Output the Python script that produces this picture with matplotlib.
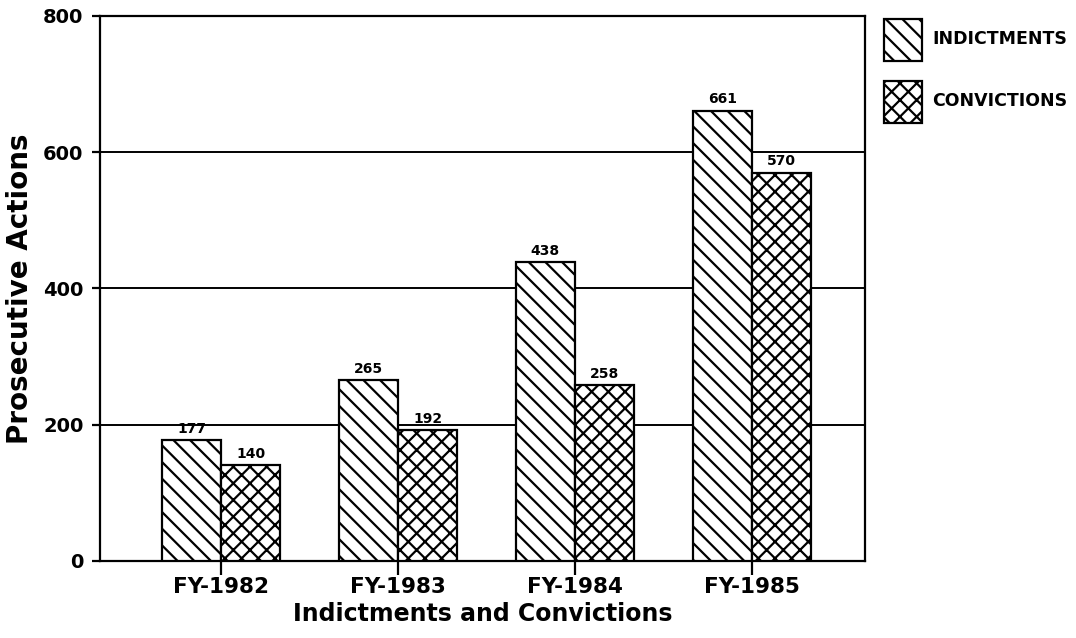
import matplotlib
matplotlib.use("Agg")
import matplotlib.pyplot as plt
from matplotlib.patches import Patch
import numpy as np

# ── data ──────────────────────────────────────────────────────────────────────
years       = ["FY-1982", "FY-1983", "FY-1984", "FY-1985"]
indictments = [177, 265, 438, 661]
convictions = [140, 192, 258, 570]

# ── style ─────────────────────────────────────────────────────────────────────
plt.rcParams.update({
    "font.family":     "DejaVu Sans",
    "font.weight":     "bold",
    "hatch.linewidth": 1.6,
    "hatch.color":     "black",
    "axes.linewidth":  1.6,
})

HATCH_I = "\\\\"   # two backslashes -> diagonal lines
HATCH_C = "xx"

fig = plt.figure(figsize=(10.76, 6.38), dpi=100)
ax = fig.add_axes([0.093, 0.121, 0.711, 0.854])

x = np.arange(len(years))
w = 0.335

b1 = ax.bar(x - w / 2, indictments, w, facecolor="white", edgecolor="black",
            linewidth=1.6, hatch=HATCH_I, zorder=3)
b2 = ax.bar(x + w / 2, convictions, w, facecolor="white", edgecolor="black",
            linewidth=1.6, hatch=HATCH_C, zorder=3)

for bars, vals in ((b1, indictments), (b2, convictions)):
    for r, v in zip(bars, vals):
        ax.annotate(str(v), xy=(r.get_x() + r.get_width() / 2, v),
                    xytext=(0, 3), textcoords="offset points",
                    ha="center", va="bottom", fontsize=10, fontweight="bold",
                    zorder=4)

ax.set_xlim(-0.684, 3.64)
ax.set_ylim(0, 800)
ax.set_yticks([0, 200, 400, 600, 800])
ax.set_xticks(x)
ax.set_xticklabels(years)
ax.tick_params(axis="y", direction="out", length=6, width=1.6, labelsize=14, pad=6)
ax.tick_params(axis="x", direction="out", length=10, width=1.6, labelsize=15.5, pad=2)
for lab in ax.get_xticklabels() + ax.get_yticklabels():
    lab.set_fontweight("bold")

ax.grid(axis="y", color="black", linewidth=1.4, zorder=0)
ax.set_axisbelow(True)

ax.set_ylabel("Prosecutive Actions", fontsize=20, fontweight="bold")
ax.yaxis.set_label_coords(-0.087, 0.5)
ax.set_xlabel("Indictments and Convictions", fontsize=17, fontweight="bold",
              labelpad=3)

handles = [
    Patch(facecolor="white", edgecolor="black", hatch=HATCH_I, linewidth=1.6),
    Patch(facecolor="white", edgecolor="black", hatch=HATCH_C, linewidth=1.6),
]
fig.legend(handles, ["INDICTMENTS", "CONVICTIONS"],
           loc="upper left", bbox_to_anchor=(0.8215, 0.971),
           frameon=False, prop={"size": 12.5, "weight": "bold"},
           handlelength=2.2, handleheight=3.35, handletextpad=0.6,
           labelspacing=1.15, borderpad=0, borderaxespad=0)

fig.savefig("out.png", dpi=100)
